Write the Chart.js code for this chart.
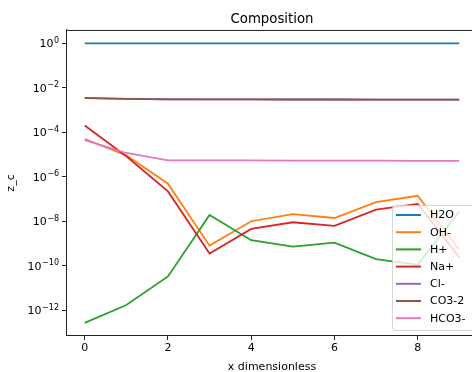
<!DOCTYPE html>
<html>
<head>
    <title>Composition</title>
    <script src="https://cdn.jsdelivr.net/npm/chart.js"></script>
    <style>
        body { margin: 0; overflow: hidden; background: #fff; }
        #wrap { width: 472px; height: 372px; overflow: hidden; }
    </style>
</head>
<body>
<div id="wrap">
    <canvas id="compChart" width="500" height="372"></canvas>
</div>

<script>
// grid positions along the column
const xPos = [0, 1, 2, 3, 4, 5, 6, 7, 8, 9];

// species concentrations z_c at each position
const h2o     = [1, 1, 1, 1, 1, 1, 1, 1, 1, 1];
const ohMinus = [5.0e-5, 9.2e-6, 4.9e-7, 8.0e-10, 1.0e-8, 2.1e-8, 1.4e-8, 7.2e-8, 1.4e-7, 5.3e-10];
const hPlus   = [2.7e-13, 1.7e-12, 3.3e-11, 1.9e-8, 1.4e-9, 7.2e-10, 1.1e-9, 2.0e-10, 1.1e-10, 2.7e-8];
const naPlus  = [2.0e-4, 8.3e-6, 2.2e-7, 3.5e-10, 4.5e-9, 9.0e-9, 6.2e-9, 3.3e-8, 6.0e-8, 2.4e-10];
const clMinus = [3.5e-3, 3.2e-3, 3.05e-3, 3.0e-3, 3.0e-3, 2.98e-3, 2.97e-3, 2.96e-3, 2.95e-3, 2.94e-3];
const co3     = [3.4e-3, 3.2e-3, 3.0e-3, 3.0e-3, 3.0e-3, 2.98e-3, 2.97e-3, 2.96e-3, 2.95e-3, 2.94e-3];
const hco3    = [4.4e-5, 1.17e-5, 5.5e-6, 5.4e-6, 5.4e-6, 5.3e-6, 5.3e-6, 5.3e-6, 5.2e-6, 5.2e-6];

const speciesNames = ['H2O', 'OH-', 'H+', 'Na+', 'Cl-', 'CO3-2', 'HCO3-'];
const speciesData = [h2o, ohMinus, hPlus, naPlus, clMinus, co3, hco3];
const speciesColors = ['#1f77b4', '#ff7f0e', '#2ca02c', '#d62728', '#9467bd', '#8c564b', '#e377c2'];

// tick positions
const xTicks = [0, 2, 4, 6, 8];
const yTickExps = [-12, -10, -8, -6, -4, -2, 0];

const FONT = 'DejaVu Sans';

// top/right spines, 10^n tick labels and the legend box drawn over the lines
const framePlugin = {
    id: 'frame',
    afterDraw(chart) {
        const ctx = chart.ctx;
        const a = chart.chartArea;
        ctx.save();
        ctx.strokeStyle = '#222';
        ctx.lineWidth = 1;
        ctx.beginPath();
        ctx.moveTo(a.left, a.top + 0.5);
        ctx.lineTo(a.right, a.top + 0.5);
        ctx.moveTo(a.right - 0.5, a.top);
        ctx.lineTo(a.right - 0.5, a.bottom);
        ctx.stroke();

        // y tick labels: "10" with raised exponent
        ctx.fillStyle = '#000';
        ctx.textBaseline = 'middle';
        ctx.textAlign = 'left';
        const yScale = chart.scales.y;
        yTickExps.forEach(e => {
            const y = yScale.getPixelForValue(Math.pow(10, e));
            const expText = String(e).replace('-', '\u2212');
            ctx.font = '8px "' + FONT + '"';
            const ew = ctx.measureText(expText).width;
            ctx.font = '11px "' + FONT + '"';
            const bw = ctx.measureText('10').width;
            const right = a.left - 7;
            ctx.fillText('10', right - ew - bw - 0.5, y + 1);
            ctx.font = '8px "' + FONT + '"';
            ctx.fillText(expText, right - ew, y - 2.5);
        });

        // legend
        const bx = 392, by = 205, bw = 120, bh = 125, r = 3;
        ctx.fillStyle = 'rgba(255,255,255,0.8)';
        ctx.strokeStyle = 'rgba(204,204,204,0.8)';
        ctx.beginPath();
        ctx.roundRect(bx + 0.5, by + 0.5, bw, bh, r);
        ctx.fill();
        ctx.stroke();

        ctx.font = '11px "' + FONT + '"';
        ctx.textBaseline = 'middle';
        ctx.textAlign = 'left';
        speciesNames.forEach((name, i) => {
            const y = 215 + i * 17.2;
            ctx.strokeStyle = speciesColors[i];
            ctx.lineWidth = 2;
            ctx.beginPath();
            ctx.moveTo(396, y);
            ctx.lineTo(421, y);
            ctx.stroke();
            ctx.fillStyle = '#000';
            ctx.fillText(name, 430, y + 0.5);
        });
        ctx.restore();
    }
};

const datasets = speciesNames.map((name, i) => ({
    label: name,
    data: xPos.map((x, j) => ({ x: x, y: speciesData[i][j] })),
    borderColor: speciesColors[i],
    backgroundColor: speciesColors[i],
    borderWidth: 1.8,
    pointRadius: 0,
    tension: 0,
    fill: false,
    order: speciesNames.length - i   // later species drawn on top
}));

new Chart(document.getElementById('compChart').getContext('2d'), {
    type: 'line',
    data: { datasets: datasets },
    options: {
        responsive: false,
        animation: false,
        layout: { padding: { left: 0, right: 22, top: 0, bottom: 0 } },
        plugins: {
            legend: { display: false },
            tooltip: { enabled: false },
            title: {
                display: true,
                text: 'Composition',
                color: '#000',
                fullSize: false,
                font: { family: FONT, size: 13.3, weight: 'normal' },
                padding: { top: 12, bottom: 2 }
            }
        },
        scales: {
            x: {
                type: 'linear',
                min: -0.45,
                max: 9.45,
                afterBuildTicks: s => { s.ticks = xTicks.map(v => ({ value: v })); },
                afterFit: s => { s.height = 36; },
                grid: { drawOnChartArea: false, drawTicks: true, tickLength: 4, color: '#222' },
                border: { display: true, color: '#222', width: 1 },
                ticks: { color: '#000', padding: 2, maxRotation: 0, font: { family: FONT, size: 11 } },
                title: {
                    display: true,
                    text: 'x dimensionless',
                    color: '#000',
                    font: { family: FONT, size: 11 },
                    padding: { top: 0, bottom: -2 }
                }
            },
            y: {
                type: 'logarithmic',
                min: Math.pow(10, -13.16),
                max: Math.pow(10, 0.6),
                afterBuildTicks: s => { s.ticks = yTickExps.map(e => ({ value: Math.pow(10, e) })); },
                afterFit: s => { s.width = 66; },
                grid: { drawOnChartArea: false, drawTicks: true, tickLength: 4, color: '#222' },
                border: { display: true, color: '#222', width: 1 },
                ticks: { display: false },
                title: {
                    display: true,
                    text: 'z_c',
                    color: '#000',
                    font: { family: FONT, size: 11 },
                    padding: { top: 5, bottom: 0 }
                }
            }
        }
    },
    plugins: [framePlugin]
});
</script>
</body>
</html>
